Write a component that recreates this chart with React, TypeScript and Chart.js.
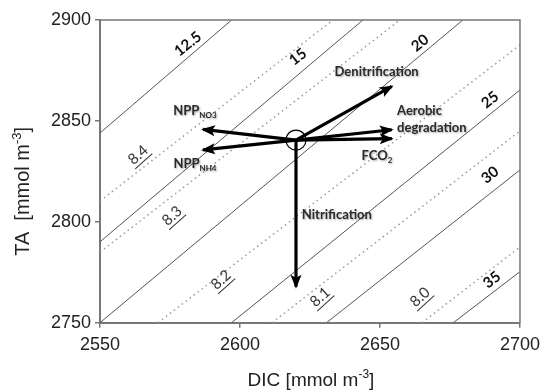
import { useEffect, useRef } from "react";
import { Chart, registerables } from "chart.js";
Chart.register(...registerables);

// ---- axes ----
const xTicks = [2550, 2600, 2650, 2700];
const yTicks = [2750, 2800, 2850, 2900];

// ---- CO2 isolines (solid) ----
const co2Labels = ["12.5", "15", "20", "25", "30", "35"];
const co2StartDIC = [2550, 2550, 2550, 2597.0, 2630.9, 2676.2];
const co2StartTA = [2844.0, 2790.1, 2750, 2750, 2750, 2750];
const co2EndDIC = [2597.0, 2643.9, 2679.6, 2700, 2700, 2700];
const co2EndTA = [2900, 2900, 2900, 2865.3, 2825.7, 2775.3];
const co2LabelDIC = [2581.4, 2620.7, 2664.3, 2689.3, 2689.3, 2690.0];
const co2LabelTA = [2888.1, 2881.7, 2888.6, 2860.4, 2823.2, 2771.2];

// ---- pH isolines (dotted) ----
const phLabels = ["8.4", "8.3", "8.2", "8.1", "8.0"];
const phStartDIC = [2550, 2550, 2570.7, 2611.4, 2665.0];
const phStartTA = [2810.3, 2785.0, 2750, 2750, 2750];
const phEndDIC = [2633.2, 2657.1, 2700, 2700, 2700];
const phEndTA = [2900, 2900, 2887.6, 2845.0, 2787.5];
const phLabelDIC = [2563.6, 2575.7, 2593.2, 2628.6, 2664.3];
const phLabelTA = [2833.1, 2802.9, 2771.2, 2762.7, 2762.7];

// ---- process vectors ----
const originDIC = 2620;
const originTA = 2840.5;
const processNames = ["NPP_NO3", "NPP_NH4", "Denitrification", "Aerobic degradation", "FCO2", "Nitrification"];
const processTipDIC = [2586.8, 2586.8, 2654.2, 2654.2, 2654.2, 2620];
const processTipTA = [2845.8, 2835.6, 2867.1, 2845.6, 2841.2, 2767.8];

// ---- process text labels ----
type Part = { t: string; sub?: boolean; sup?: boolean };
const processText: Part[][] = [
  [{ t: "NPP" }, { t: "NO3", sub: true }],
  [{ t: "NPP" }, { t: "NH4", sub: true }],
  [{ t: "Denitrification" }],
  [{ t: "Aerobic" }],
  [{ t: "degradation" }],
  [{ t: "FCO" }, { t: "2", sub: true }],
  [{ t: "Nitrification" }],
];
const processTextDIC = [2583.9, 2583.9, 2648.8, 2656.1, 2656.1, 2648.9, 2622.1];
const processTextTA = [2855.4, 2829.1, 2874.7, 2855.4, 2846.5, 2833.1, 2803.4];
const processTextAlign = ["center", "center", "center", "left", "left", "center", "left"];

function drawRich(
  ctx: CanvasRenderingContext2D,
  parts: Part[],
  x: number,
  y: number,
  size: number,
  weight: string,
  family: string,
  align: string
) {
  const fontFor = (p: Part) => `${weight} ${p.sub || p.sup ? Math.round(size * 0.65) : size}px ${family}`;
  let total = 0;
  for (const p of parts) {
    ctx.font = fontFor(p);
    total += ctx.measureText(p.t).width;
  }
  let cx = align === "center" ? x - total / 2 : align === "right" ? x - total : x;
  ctx.textAlign = "left";
  ctx.textBaseline = "alphabetic";
  for (const p of parts) {
    ctx.font = fontFor(p);
    const dy = p.sub ? size * 0.28 : p.sup ? -size * 0.42 : 0;
    ctx.fillText(p.t, cx, y + dy);
    cx += ctx.measureText(p.t).width;
  }
  return total;
}

const overlayPlugin = {
  id: "overlay",
  afterDatasetsDraw(chart: any) {
    const ctx: CanvasRenderingContext2D = chart.ctx;
    const xs = chart.scales.x;
    const ys = chart.scales.y;
    const ca = chart.chartArea;

    // box border top/right
    ctx.save();
    ctx.strokeStyle = "#777";
    ctx.lineWidth = 1.5;
    ctx.beginPath();
    ctx.moveTo(ca.left, ca.top);
    ctx.lineTo(ca.right, ca.top);
    ctx.lineTo(ca.right, ca.bottom);
    ctx.stroke();
    ctx.restore();

    // arrowheads
    chart.data.datasets.forEach((ds: any, i: number) => {
      if (!ds.isArrow) return;
      const meta = chart.getDatasetMeta(i);
      const p0 = meta.data[0];
      const p1 = meta.data[1];
      const ang = Math.atan2(p1.y - p0.y, p1.x - p0.x);
      const L = 12;
      const W = 5.5;
      ctx.save();
      ctx.fillStyle = "#000";
      ctx.translate(p1.x, p1.y);
      ctx.rotate(ang);
      ctx.beginPath();
      ctx.moveTo(2, 0);
      ctx.lineTo(-L, -W);
      ctx.lineTo(-L + 3, 0);
      ctx.lineTo(-L, W);
      ctx.closePath();
      ctx.fill();
      ctx.restore();
    });

    // CO2 labels
    ctx.save();
    ctx.fillStyle = "#111";
    co2Labels.forEach((lab, i) => {
      const x = xs.getPixelForValue(co2LabelDIC[i]);
      const y = ys.getPixelForValue(co2LabelTA[i]);
      ctx.save();
      ctx.translate(x, y);
      ctx.rotate((-38 * Math.PI) / 180);
      ctx.font = "bold 15px Lato";
      ctx.textAlign = "center";
      ctx.textBaseline = "middle";
      ctx.fillText(lab, 0, 0);
      ctx.restore();
    });
    ctx.restore();

    // pH labels (underlined)
    ctx.save();
    ctx.fillStyle = "#333";
    ctx.strokeStyle = "#333";
    phLabels.forEach((lab, i) => {
      const x = xs.getPixelForValue(phLabelDIC[i]);
      const y = ys.getPixelForValue(phLabelTA[i]);
      ctx.save();
      ctx.translate(x, y);
      ctx.rotate((-42 * Math.PI) / 180);
      ctx.font = "15px Lato";
      ctx.textAlign = "center";
      ctx.textBaseline = "middle";
      ctx.fillText(lab, 0, 0);
      const w = ctx.measureText(lab).width;
      ctx.lineWidth = 1;
      ctx.beginPath();
      ctx.moveTo(-w / 2 - 1, 8.5);
      ctx.lineTo(w / 2 + 1, 8.5);
      ctx.stroke();
      ctx.restore();
    });
    ctx.restore();

    // process text
    ctx.save();
    ctx.fillStyle = "#2a2a2a";
    ctx.shadowColor = "rgba(0,0,0,0.35)";
    ctx.shadowBlur = 2;
    ctx.shadowOffsetX = 1;
    ctx.shadowOffsetY = 1;
    processText.forEach((parts, i) => {
      const x = xs.getPixelForValue(processTextDIC[i]);
      const y = ys.getPixelForValue(processTextTA[i]);
      drawRich(ctx, parts, x, y + 4.5, 13, "bold", "Lato", processTextAlign[i]);
    });
    ctx.restore();
  },
  afterDraw(chart: any) {
    const ctx: CanvasRenderingContext2D = chart.ctx;
    const ca = chart.chartArea;
    ctx.save();
    ctx.fillStyle = "#222";
    // x title
    drawRich(
      ctx,
      [{ t: "DIC [mmol m" }, { t: "-3", sup: true }, { t: "]" }],
      (ca.left + ca.right) / 2 + 1,
      386,
      19,
      "normal",
      "'Liberation Sans'",
      "center"
    );
    // y title
    ctx.translate(29, (ca.top + ca.bottom) / 2 + 20);
    ctx.rotate(-Math.PI / 2);
    drawRich(
      ctx,
      [{ t: "TA  [mmol m" }, { t: "-3", sup: true }, { t: "]" }],
      0,
      0,
      20,
      "normal",
      "'Liberation Sans'",
      "center"
    );
    ctx.restore();
  },
};

export default function App() {
  const ref = useRef<HTMLCanvasElement | null>(null);
  useEffect(() => {
    if (!ref.current) return;
    const datasets: any[] = [];
    // circle at origin
    datasets.push({
      data: [{ x: originDIC, y: originTA }],
      showLine: false,
      pointRadius: 10,
      pointBorderColor: "#000",
      pointBackgroundColor: "rgba(0,0,0,0)",
      pointBorderWidth: 1.2,
      order: 0,
    });
    processNames.forEach((name, i) => {
      datasets.push({
        label: name,
        isArrow: true,
        data: [
          { x: originDIC, y: originTA },
          { x: processTipDIC[i], y: processTipTA[i] },
        ],
        showLine: true,
        borderColor: "#000",
        borderWidth: 3.2,
        pointRadius: 0,
        order: 1,
      });
    });
    co2Labels.forEach((lab, i) => {
      datasets.push({
        label: "CO2 " + lab,
        data: [
          { x: co2StartDIC[i], y: co2StartTA[i] },
          { x: co2EndDIC[i], y: co2EndTA[i] },
        ],
        showLine: true,
        borderColor: "#555",
        borderWidth: 1,
        pointRadius: 0,
        order: 3,
      });
    });
    phLabels.forEach((lab, i) => {
      datasets.push({
        label: "pH " + lab,
        data: [
          { x: phStartDIC[i], y: phStartTA[i] },
          { x: phEndDIC[i], y: phEndTA[i] },
        ],
        showLine: true,
        borderColor: "#9a9a9a",
        borderWidth: 1.5,
        borderDash: [1.5, 3.5],
        pointRadius: 0,
        order: 4,
      });
    });

    const tickFont = { family: "'Liberation Sans'", size: 18 };
    const chart = new Chart(ref.current, {
      type: "scatter",
      data: { datasets },
      plugins: [overlayPlugin],
      options: {
        animation: false,
        responsive: true,
        maintainAspectRatio: false,
        layout: { padding: { left: 0, top: 20, right: 27, bottom: 0 } },
        plugins: { legend: { display: false }, tooltip: { enabled: false } },
        scales: {
          x: {
            type: "linear",
            min: 2550,
            max: 2700,
            afterBuildTicks: (s: any) => {
              s.ticks = xTicks.map((v) => ({ value: v }));
            },
            afterFit: (s: any) => {
              s.height = 67.3;
            },
            grid: { display: true, drawOnChartArea: false, drawTicks: true, tickLength: 5, color: "#777", lineWidth: 1.5 },
            border: { display: true, color: "#777", width: 2 },
            ticks: { font: tickFont, color: "#222", padding: 7, maxRotation: 0, callback: (v: any) => String(v) },
          },
          y: {
            type: "linear",
            min: 2750,
            max: 2900,
            afterBuildTicks: (s: any) => {
              s.ticks = yTicks.map((v) => ({ value: v }));
            },
            afterFit: (s: any) => {
              s.width = 100;
            },
            grid: { display: true, drawOnChartArea: false, drawTicks: true, tickLength: 5, color: "#777", lineWidth: 1.5 },
            border: { display: true, color: "#777", width: 2 },
            ticks: { font: tickFont, color: "#222", padding: 4, callback: (v: any) => String(v) },
          },
        },
      } as any,
    });
    return () => chart.destroy();
  }, []);
  return (
    <div style={{ position: "fixed", left: 0, top: 0, width: 547, height: 390, background: "#fff" }}>
      <canvas ref={ref} />
    </div>
  );
}
